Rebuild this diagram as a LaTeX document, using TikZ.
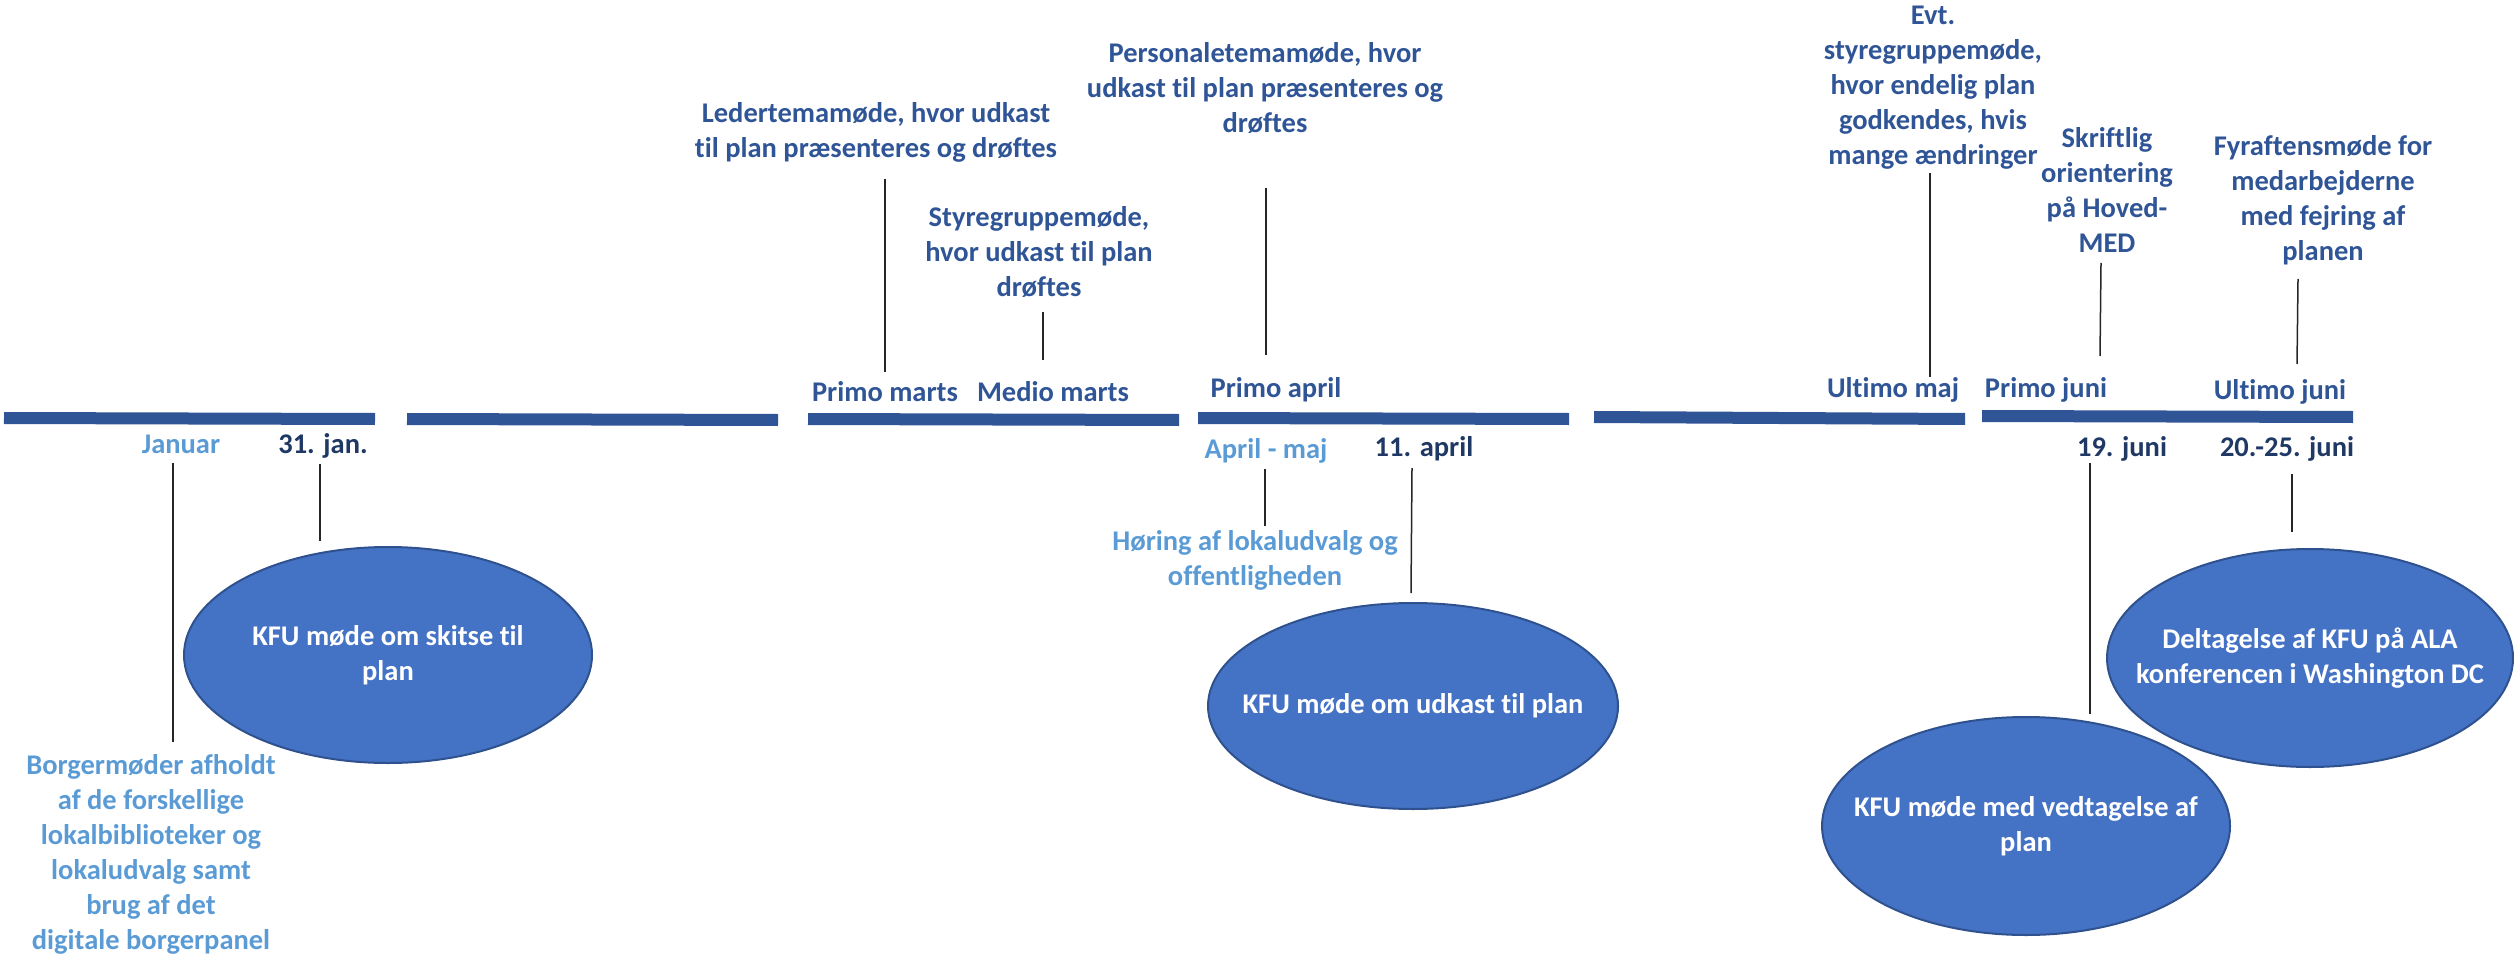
\documentclass[tikz,border=0pt]{standalone}
\usepackage{fontspec}
\setmainfont{Carlito}[BoldFont={Carlito Bold}, Ligatures={NoCommon}]
\usetikzlibrary{shapes.geometric}
\definecolor{tlblue}{HTML}{2F5597}
\definecolor{navy}{HTML}{1F3864}
\definecolor{lblue}{HTML}{5B9BD5}
\definecolor{efill}{HTML}{4472C4}
\definecolor{eline}{HTML}{2F528F}
\tikzset{
  seg/.style={draw=tlblue, line width=6pt},
  lbl/.style={inner sep=0pt, align=center, font=\fontsize{14.25pt}{17.5pt}\selectfont\bfseries, text=tlblue},
  datelbl/.style={lbl, text=navy},
  lightlbl/.style={lbl, text=lblue},
  evt/.style={ellipse, draw=eline, line width=1pt, fill=efill, inner sep=0pt},
  evttext/.style={text=white, inner sep=0pt, align=center,
    font=\fontsize{14.25pt}{17.5pt}\selectfont\bfseries},
  conn/.style={draw=black!85, line width=0.75pt},
}
\begin{document}
\begin{tikzpicture}[x=0.5pt, y=-0.5pt]
\useasboundingbox (0,0) rectangle (2514,957);
% timeline segments
\coordinate (s1a) at (4,418);    \coordinate (s1b) at (375,419);
\coordinate (s2a) at (407,419);  \coordinate (s2b) at (778,420);
\coordinate (s3a) at (808,419);  \coordinate (s3b) at (1179,420);
\coordinate (s4a) at (1198,418); \coordinate (s4b) at (1569,419);
\coordinate (s5a) at (1594,417); \coordinate (s5b) at (1965,419);
\coordinate (s6a) at (1982,416); \coordinate (s6b) at (2353,417);
\draw[seg] (s1a) -- (s1b);
\draw[seg] (s2a) -- (s2b);
\draw[seg] (s3a) -- (s3b);
\draw[seg] (s4a) -- (s4b);
\draw[seg] (s5a) -- (s5b);
\draw[seg] (s6a) -- (s6b);
% labels above the line
\node[lbl, anchor=base] (pmarts) at (885,401) {Primo marts};
\node[lbl, anchor=base] (mmarts) at (1053,401) {Medio marts};
\node[lbl, anchor=base] (papril) at (1276,397) {Primo april};
\node[lbl, anchor=base] (umaj) at (1893,397) {Ultimo maj};
\node[lbl, anchor=base] (pjuni) at (2046,397) {Primo juni};
\node[lbl, anchor=base] (ujuni) at (2280,399) {Ultimo juni};
% labels below the line
\node[lightlbl, anchor=base] (januar) at (181,453) {Januar};
\node[datelbl, anchor=base] (jan31) at (323,453) {31. jan.};
\node[lightlbl, anchor=base] (aprmaj) at (1266,458) {April - maj};
\node[datelbl, anchor=base] (apr11) at (1424,456) {11. april};
\node[datelbl, anchor=base] (jun19) at (2122,456) {19. juni};
\node[datelbl, anchor=base] (jun2025) at (2287,456) {20.-25. juni};
% upper descriptions
\node[lbl] (leder) at (876,132) {Ledertemamøde, hvor udkast\\til plan præsenteres og drøftes};
\node[lbl] (styre) at (1039,252) {Styregruppemøde,\\hvor udkast til plan\\drøftes};
\node[lbl] (person) at (1265,88) {Personaletemamøde, hvor\\udkast til plan præsenteres og\\drøftes};
\node[lbl] (evtstyre) at (1933,88) {Evt.\\styregruppemøde,\\hvor endelig plan\\godkendes, hvis\\mange ændringer};
\node[lbl] (skrift) at (2107,190) {Skriftlig\\orientering\\på Hoved-\\MED};
\node[lbl] (fyraft) at (2323,200) {Fyraftensmøde for\\medarbejderne\\med fejring af\\planen};
% lower descriptions
\node[lightlbl] (borger) at (151,854) {Borgermøder afholdt\\af de forskellige\\lokalbiblioteker og\\lokaludvalg samt\\brug af det\\digitale borgerpanel};
\node[lightlbl] (horing) at (1255,560) {Høring af lokaludvalg og\\offentligheden};
% ellipses
\node[evt, minimum width=204pt, minimum height=108pt,
  label={[evttext]center:KFU møde om skitse til\\plan}] (kfu1) at (388,655) {};
\node[evt, minimum width=205pt, minimum height=103pt,
  label={[evttext]center:KFU møde om udkast til plan}] (kfu2) at (1413,706) {};
\node[evt, minimum width=203pt, minimum height=109pt,
  label={[evttext]center:Deltagelse af KFU på ALA\\konferencen i Washington DC}] (ala) at (2310,658) {};
\node[evt, minimum width=204pt, minimum height=109pt,
  label={[evttext]center:KFU møde med vedtagelse af\\plan}] (kfu3) at (2026,826) {};
% connector end points
\coordinate (c1a) at (173,463);  \coordinate (c1b) at (173,742);
\coordinate (c2a) at (320,464);  \coordinate (c2b) at (320,541);
\coordinate (c3a) at (885,179);  \coordinate (c3b) at (885,372);
\coordinate (c4a) at (1043,312); \coordinate (c4b) at (1043,360);
\coordinate (c5a) at (1266,188); \coordinate (c5b) at (1266,355);
\coordinate (c6a) at (1265,469); \coordinate (c6b) at (1265,526);
\coordinate (c7a) at (1412,468); \coordinate (c7b) at (1411,593);
\coordinate (c8a) at (1930,173); \coordinate (c8b) at (1930,377);
\coordinate (c9a) at (2101,263); \coordinate (c9b) at (2100,356);
\coordinate (c10a) at (2298,279); \coordinate (c10b) at (2297,364);
\coordinate (c11a) at (2090,463); \coordinate (c11b) at (2090,714);
\coordinate (c12a) at (2292,474); \coordinate (c12b) at (2292,532);
\draw[conn] (c1a) -- (c1b);
\draw[conn] (c2a) -- (c2b);
\draw[conn] (c3a) -- (c3b);
\draw[conn] (c4a) -- (c4b);
\draw[conn] (c5a) -- (c5b);
\draw[conn] (c6a) -- (c6b);
\draw[conn] (c7a) -- (c7b);
\draw[conn] (c8a) -- (c8b);
\draw[conn] (c9a) -- (c9b);
\draw[conn] (c10a) -- (c10b);
\draw[conn] (c11a) -- (c11b);
\draw[conn] (c12a) -- (c12b);
\end{tikzpicture}
\end{document}
